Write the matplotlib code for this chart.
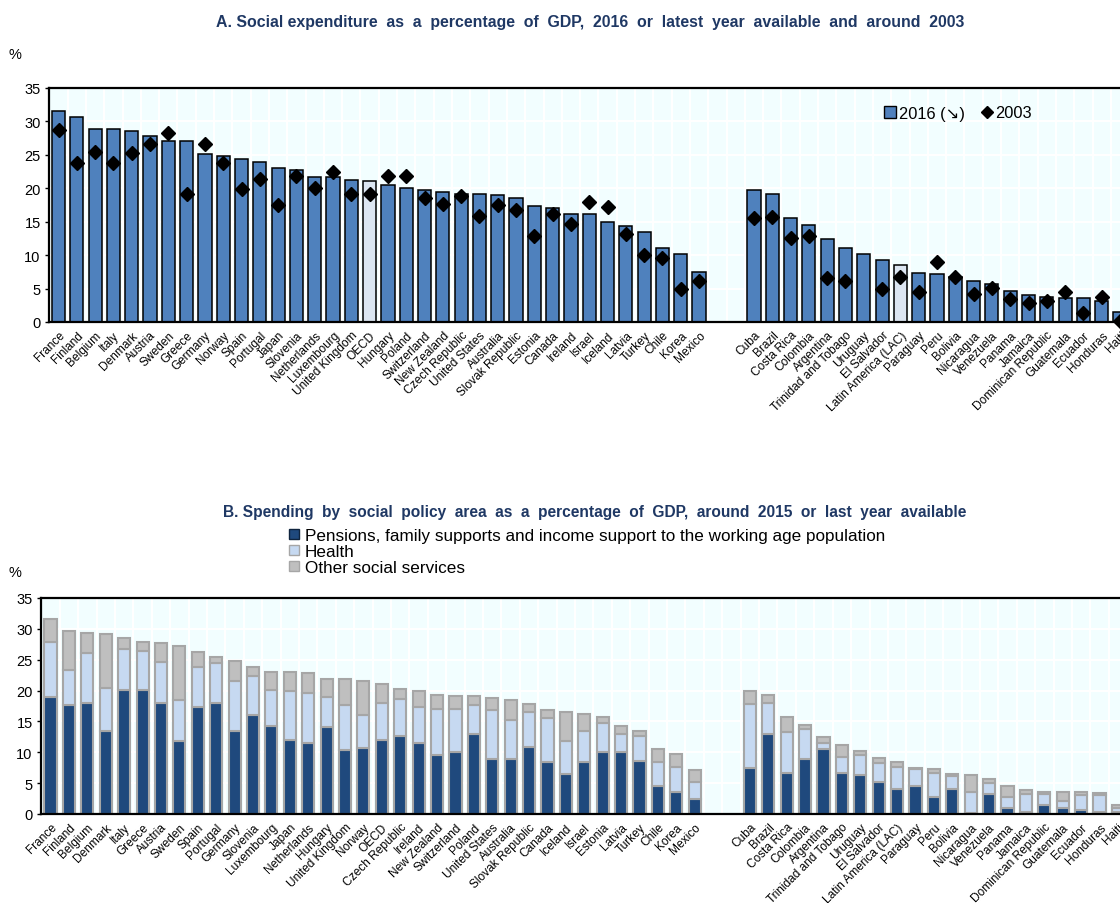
import os
import matplotlib
matplotlib.use("Agg")
import matplotlib.pyplot as plt
import matplotlib.font_manager as fm
from matplotlib.lines import Line2D
import numpy as np

# ---------------- Data: Panel A ----------------
a_countries = ["France", "Finland", "Belgium", "Italy", "Denmark", "Austria", "Sweden", "Greece",
               "Germany", "Norway", "Spain", "Portugal", "Japan", "Slovenia", "Netherlands",
               "Luxembourg", "United Kingdom", "OECD", "Hungary", "Poland", "Switzerland",
               "New Zealand", "Czech Republic", "United States", "Australia", "Slovak Republic",
               "Estonia", "Canada", "Ireland", "Israel", "Iceland", "Latvia", "Turkey", "Chile",
               "Korea", "Mexico"]
a_lac = ["Cuba", "Brazil", "Costa Rica", "Colombia", "Argentina", "Trinidad and Tobago", "Uruguay",
         "El Salvador", "Latin America (LAC)", "Paraguay", "Peru", "Bolivia", "Nicaragua", "Venezuela",
         "Panama", "Jamaica", "Dominican Republic", "Guatemala", "Ecuador", "Honduras", "Haiti"]
a_2016 = [31.5, 30.7, 28.8, 28.8, 28.6, 27.8, 27.1, 27.1, 25.2, 24.9, 24.4, 23.9, 23.1, 22.8, 21.7,
          21.7, 21.3, 21.1, 20.5, 20.0, 19.8, 19.5, 19.2, 19.2, 19.0, 18.5, 17.4, 17.1, 16.1, 16.1,
          15.0, 14.3, 13.5, 11.1, 10.1, 7.5]
a_2003 = [28.7, 23.8, 25.5, 23.8, 25.3, 26.6, 28.2, 19.1, 26.6, 23.8, 19.9, 21.4, 17.5, 21.9, 20.1,
          22.4, 19.1, 19.1, 21.9, 21.9, 18.5, 17.7, 18.8, 15.9, 17.5, 16.7, 12.8, 16.2, 14.6, 18.0,
          17.2, 13.1, 10.0, 9.6, 5.0, 6.1]
a_lac_2016 = [19.7, 19.2, 15.6, 14.5, 12.4, 11.1, 10.1, 9.3, 8.5, 7.4, 7.2, 6.7, 6.2, 5.7, 4.6, 4.1,
              3.8, 3.6, 3.6, 3.1, 1.5]
a_lac_2003 = [15.5, 15.7, 12.5, 12.9, 6.6, 6.1, np.nan, 5.0, 6.8, 4.5, 8.9, 6.8, 4.2, 5.1, 3.4, 2.9,
              3.2, 4.5, 1.3, 3.7, 0.2]

# ---------------- Data: Panel B ----------------
b_countries = ["France", "Finland", "Belgium", "Denmark", "Italy", "Greece", "Austria", "Sweden",
               "Spain", "Portugal", "Germany", "Slovenia", "Luxembourg", "Japan", "Netherlands",
               "Hungary", "United Kingdom", "Norway", "OECD", "Czech Republic", "Ireland",
               "New Zealand", "Switzerland", "Poland", "United States", "Australia",
               "Slovak Republic", "Canada", "Iceland", "Israel", "Estonia", "Latvia", "Turkey",
               "Chile", "Korea", "Mexico"]
b_lac = ["Cuba", "Brazil", "Costa Rica", "Colombia", "Argentina", "Trinidad and Tobago", "Uruguay",
         "El Salvador", "Latin America (LAC)", "Paraguay", "Peru", "Bolivia", "Nicaragua", "Venezuela",
         "Panama", "Jamaica", "Dominican Republic", "Guatemala", "Ecuador", "Honduras", "Haiti"]
# cumulative tops: pensions, pensions+health, total
b_pens = [18.9, 17.6, 18.0, 13.4, 20.1, 20.1, 18.0, 11.8, 17.3, 18.0, 13.4, 16.0, 14.3, 12.0, 11.5,
          14.1, 10.3, 10.7, 12.0, 12.6, 11.5, 9.5, 10.0, 12.9, 8.9, 8.9, 10.9, 8.4, 6.5, 8.4, 10.0,
          10.0, 8.6, 4.6, 3.5, 2.4]
b_health_top = [27.8, 23.3, 26.1, 20.4, 26.8, 26.4, 24.7, 18.4, 23.8, 24.4, 21.5, 22.3, 20.1, 19.9,
                19.6, 19.0, 17.7, 16.1, 18.0, 18.7, 17.3, 17.0, 17.0, 17.6, 16.9, 15.3, 16.6, 15.5,
                11.9, 13.5, 14.7, 13.0, 12.7, 8.4, 7.6, 5.2]
b_total = [31.6, 29.6, 29.4, 29.1, 28.5, 27.9, 27.7, 27.3, 26.2, 25.4, 24.8, 23.9, 23.0, 23.0, 22.8,
           21.9, 21.9, 21.6, 21.0, 20.2, 19.9, 19.3, 19.1, 19.1, 18.8, 18.5, 17.9, 16.8, 16.5, 16.2,
           15.7, 14.2, 13.4, 10.5, 9.7, 7.1]
b_lac_pens = [7.4, 12.9, 6.6, 8.9, 10.6, 6.6, 6.3, 5.2, 4.1, 4.6, 2.7, 4.1, 0.1, 3.3, 0.9, 0.4, 1.5,
              0.9, 0.7, 0.4, 0.4]
b_lac_health_top = [17.8, 18.0, 13.3, 13.8, 11.5, 9.3, 9.6, 8.3, 7.6, 7.3, 6.7, 6.1, 3.5, 5.1, 2.7,
                    3.3, 3.3, 2.1, 3.0, 3.0, 0.9]
b_lac_total = [19.9, 19.3, 15.7, 14.5, 12.5, 11.1, 10.2, 9.1, 8.5, 7.4, 7.3, 6.5, 6.3, 5.6, 4.5, 3.9,
               3.6, 3.6, 3.6, 3.4, 1.4]

# ---------------- Styling ----------------
BG = "#F2FEFF"
TITLE_C = "#1F3864"
BLUE = "#4F81BD"
LIGHT = "#DCE6F2"
NAVY = "#1F497D"
HEALTH = "#C6D9F1"
GREY = "#BFBFBF"
EDGE_B = "#A6A6A6"
MAINFONT = ["Liberation Sans", "DejaVu Sans"]
plt.rcParams["font.family"] = MAINFONT

# narrow font for rotated tick labels if available
narrow_file = None
for f in fm.fontManager.ttflist:
    if os.path.basename(f.fname).lower() == "liberationsansnarrow-regular.ttf":
        narrow_file = f.fname
        break
if narrow_file:
    tick_fp = fm.FontProperties(fname=narrow_file, size=9.5)
else:
    tick_fp = fm.FontProperties(family=MAINFONT, size=8.6)

fig = plt.figure(figsize=(11.2, 9.04), dpi=100)
W, H = 1120.0, 904.0


def style_axes(ax, xs, labels, xmax):
    ax.set_facecolor(BG)
    ax.set_ylim(0, 35)
    ax.set_yticks(range(0, 36, 5))
    ax.set_xlim(-0.52, xmax)
    for y in range(5, 35, 5):
        ax.axhline(y, color="white", lw=1.5, zorder=0.5)
    for x in np.arange(-0.5, xmax + 1, 1.0):
        ax.axvline(x, color="white", lw=1.5, zorder=0.5)
    ax.set_xticks(xs)
    ax.set_xticklabels(labels, rotation=45, ha="right", rotation_mode="anchor",
                       fontproperties=tick_fp)
    ax.tick_params(axis="x", length=0, pad=5)
    ax.tick_params(axis="y", length=3, width=1, labelsize=10.5, pad=3)
    for s in ["left", "bottom", "top", "right"]:
        ax.spines[s].set_linewidth(1.6)
        ax.spines[s].set_color("black")


# ---------------- Panel A ----------------
axA = fig.add_axes([49 / W, 1 - 323 / H, 1082 / W, (323 - 89) / H])
xs_a = list(range(len(a_countries))) + list(range(38, 38 + len(a_lac)))
vals16 = a_2016 + a_lac_2016
vals03 = a_2003 + a_lac_2003
labels_a = a_countries + a_lac
colors_a = [LIGHT if c in ("OECD", "Latin America (LAC)") else BLUE for c in labels_a]
axA.bar(xs_a, vals16, width=0.72, color=colors_a, edgecolor="black", linewidth=1.1, zorder=2)
axA.plot(xs_a, vals03, linestyle="none", marker="D", markersize=7.5, color="black", zorder=3,
         clip_on=False)
style_axes(axA, xs_a, labels_a, 58.6)

fig.text(590 / W, 1 - 22 / H,
         "A. Social expenditure  as  a  percentage  of  GDP,  2016  or  latest  year  available  and  around  2003",
         ha="center", va="center", fontsize=11.4, fontweight="bold", color=TITLE_C)
fig.text(15 / W, 1 - 55 / H, "%", ha="center", va="center", fontsize=10.5)

hA = [Line2D([], [], linestyle="none", marker="s", markersize=9, markerfacecolor=BLUE,
             markeredgecolor="black", markeredgewidth=1.0),
      Line2D([], [], linestyle="none", marker="D", markersize=6, color="black")]
fig.legend(hA, ["2016 (\u2198)", "2003"], loc="center", bbox_to_anchor=(958 / W, 1 - 114 / H),
           ncol=2, frameon=False, fontsize=11.8, handlelength=0.8, handletextpad=0.15,
           columnspacing=0.9, borderaxespad=0, borderpad=0)

# ---------------- Panel B ----------------
axB = fig.add_axes([41 / W, 1 - 815 / H, 1088 / W, (815 - 599) / H])
xs_b = list(range(len(b_countries))) + list(range(38, 38 + len(b_lac)))
pens = np.array(b_pens + b_lac_pens)
htop = np.array(b_health_top + b_lac_health_top)
tot = np.array(b_total + b_lac_total)
labels_b = b_countries + b_lac
bw = 0.66
axB.bar(xs_b, pens, width=bw, color=NAVY, edgecolor=EDGE_B, linewidth=1.5, zorder=2)
axB.bar(xs_b, htop - pens, bottom=pens, width=bw, color=HEALTH, edgecolor=EDGE_B, linewidth=1.5,
        zorder=2)
axB.bar(xs_b, tot - htop, bottom=htop, width=bw, color=GREY, edgecolor=EDGE_B, linewidth=1.5,
        zorder=2)
style_axes(axB, xs_b, labels_b, 58.6)

fig.text(595 / W, 1 - 513 / H,
         "B. Spending  by  social  policy  area  as  a  percentage  of  GDP,  around  2015  or  last  year  available",
         ha="center", va="center", fontsize=11.2, fontweight="bold", color=TITLE_C)
fig.text(15 / W, 1 - 573 / H, "%", ha="center", va="center", fontsize=10.5)

hB = [Line2D([], [], linestyle="none", marker="s", markersize=7, markerfacecolor=c,
             markeredgecolor=EDGE_B if c != NAVY else "#0F243E", markeredgewidth=1.0)
      for c in (NAVY, HEALTH, GREY)]
fig.legend(hB, ["Pensions, family supports and income support to the working age population",
                "Health", "Other social services"],
           loc="upper left", bbox_to_anchor=(288 / W, 1 - 529 / H), frameon=False, fontsize=12.3,
           handlelength=0.7, handletextpad=0.3, labelspacing=0.05, borderaxespad=0, borderpad=0)

fig.savefig("out.png", dpi=100)
